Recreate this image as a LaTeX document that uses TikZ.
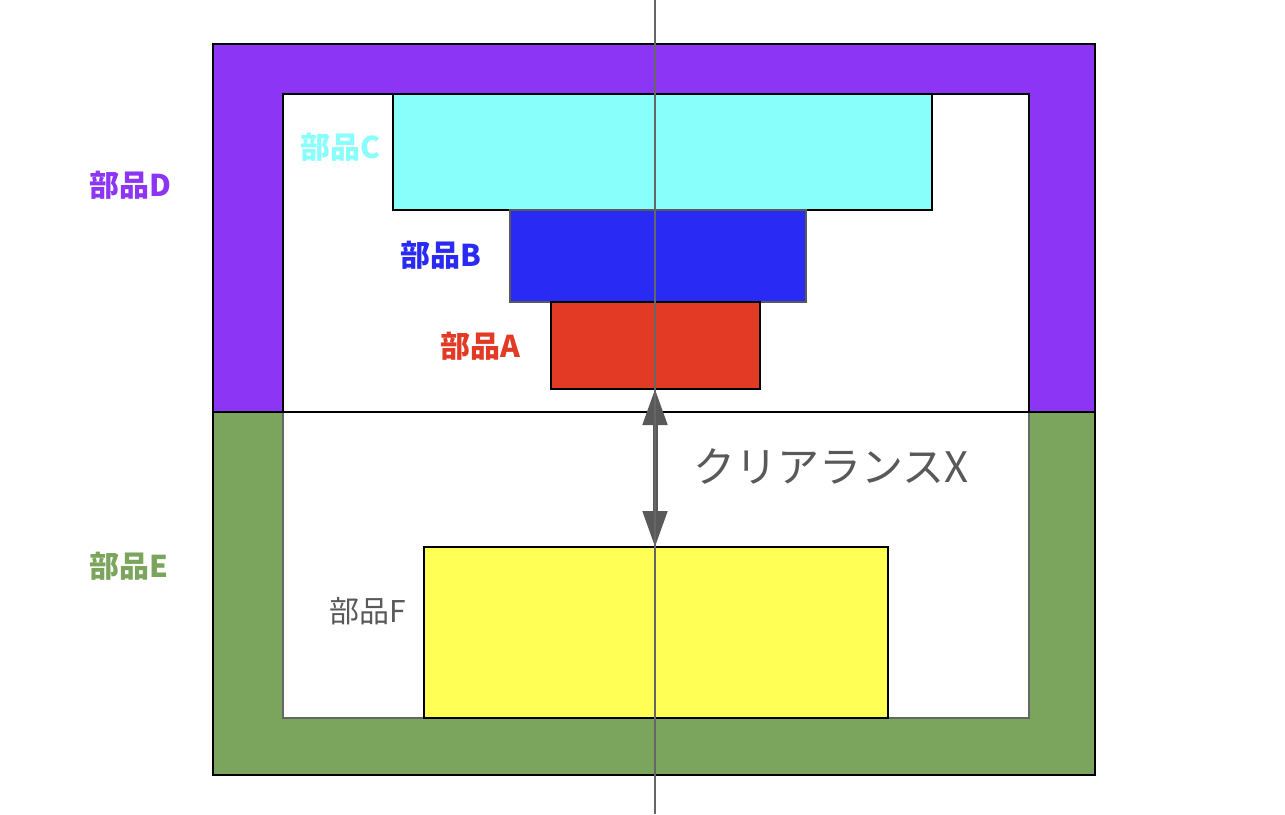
\documentclass[tikz,border=0pt]{standalone}
\usepackage{fontspec}
\setmainfont{Noto Sans CJK JP}
\usetikzlibrary{arrows.meta}
\definecolor{partD}{RGB}{140,53,245}
\definecolor{partE}{RGB}{123,165,92}
\definecolor{partC}{RGB}{136,255,250}
\definecolor{partB}{RGB}{42,42,245}
\definecolor{partA}{RGB}{226,58,36}
\definecolor{partF}{RGB}{255,255,85}
\definecolor{txtgray}{RGB}{89,89,89}
\definecolor{axisgray}{RGB}{102,102,102}
\tikzset{
  box/.style={draw=black,line width=1.3pt,inner sep=0pt,outer sep=0pt,anchor=north west},
  lbl/.style={font=\fontsize{30}{33}\selectfont\bfseries,inner sep=0pt},
}
\begin{document}
\begin{tikzpicture}[x=1pt,y=-1pt]
\useasboundingbox (0,0) rectangle (1285,814);
% part E frame
\node[box,fill=partE,minimum width=882pt,minimum height=363pt] (Eout) at (213,412) {};
\node[box,fill=white,draw=axisgray,minimum width=746pt,minimum height=306pt] (Ein) at (283,412) {};
% part D frame
\node[box,fill=partD,minimum width=882pt,minimum height=368pt] (Dout) at (213,44) {};
\node[box,fill=white,minimum width=746pt,minimum height=318pt] (Din) at (283,94) {};
% parts
\node[box,fill=partC,minimum width=539pt,minimum height=116pt] (C) at (393,94) {};
\node[box,fill=partB,draw=black!65,minimum width=296pt,minimum height=92pt] (B) at (510,210) {};
\node[box,fill=partA,minimum width=209pt,minimum height=87pt] (A) at (551,302) {};
\node[box,fill=partF,minimum width=464pt,minimum height=171pt] (F) at (424,547) {};
% labels
\node[lbl,text=partC] (lC) at (341,147) {部品C};
\node[lbl,text=partB] (lB) at (441,255) {部品B};
\node[lbl,text=partA] (lA) at (480,346) {部品A};
\node[lbl,text=partD] (lD) at (130,185) {部品D};
\node[lbl,text=partE] (lE) at (129,566) {部品E};
\node[inner sep=0pt,text=txtgray,font=\fontsize{30}{33}\selectfont] (lF) at (368,611) {部品F};
\node[inner sep=0pt,text=txtgray,font=\fontsize{42}{46}\selectfont] (lX) at (831,466) {クリアランスX};
% clearance arrow
\coordinate (aTop) at (655,389);
\coordinate (aBot) at (655,547);
\draw[txtgray,line width=5pt,{Triangle[width=24pt,length=36pt]}-{Triangle[width=24pt,length=36pt]}] (aTop) -- (aBot);
% axis
\coordinate (axTop) at (655,0);
\coordinate (axBot) at (655,814);
\draw[axisgray,line width=1.3pt] (axTop) -- (axBot);
\end{tikzpicture}
\end{document}
